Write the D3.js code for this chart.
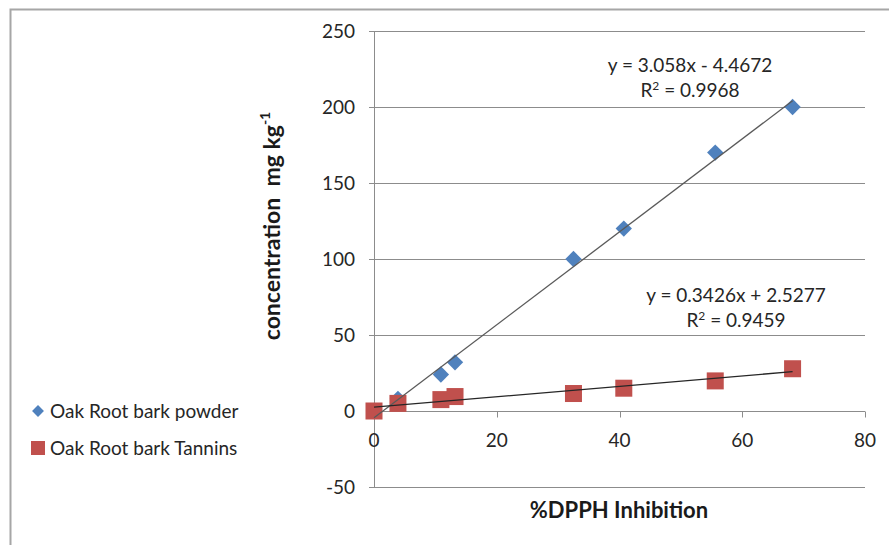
<!DOCTYPE html>
<html><head><meta charset="utf-8">
<script src="https://cdn.jsdelivr.net/npm/d3@7"></script>
<style>body{margin:0;background:#fff;} svg{display:block;font-family:Lato,"Open Sans","Liberation Sans",sans-serif;} text{white-space:pre;}</style>
</head><body>
<svg id="c" width="889" height="545"></svg>
<script>
const xTicks = [0, 20, 40, 60, 80];
const yTicks = [-50, 0, 50, 100, 150, 200, 250];
const seriesNames = ["Oak Root bark powder", "Oak Root bark Tannins"];
const seriesColors = ["#4F81BD", "#C0504D"];
const inhibition = [0, 3.9, 10.9, 13.2, 32.5, 40.7, 55.6, 68.2];
const powderConc = [0, 8, 24, 32, 100, 120, 170, 200];
const tanninConc = [0, 5, 7.5, 9.5, 11.5, 15, 19.8, 27.8];
const trendSlope = [3.058, 0.3426];
const trendIntercept = [-4.4672, 2.5277];
const trendEq = ["y = 3.058x - 4.4672", "y = 0.3426x + 2.5277"];
const trendR2 = ["0.9968", "0.9459"];

const svg = d3.select("#c");
// outer frame
svg.append("path").attr("d","M10.5,545 V9.5 H889").attr("fill","none").attr("stroke","#a6a6a6").attr("stroke-width",2);

const x = d3.scaleLinear().domain([0,80]).range([374,865]);
const y = d3.scaleLinear().domain([-50,250]).range([487,31]);

// gridlines
svg.append("g").selectAll("line").data(yTicks).join("line")
  .attr("x1",x(0)-5).attr("x2",x(80)).attr("y1",d=>Math.round(y(d))+0.5).attr("y2",d=>Math.round(y(d))+0.5)
  .attr("stroke","#8c8c8c").attr("stroke-width",1);
// y axis line
svg.append("line").attr("x1",x(0)+0.5).attr("x2",x(0)+0.5).attr("y1",y(250)).attr("y2",y(-50))
  .attr("stroke","#8c8c8c");
// x axis ticks at y=0
const y0 = Math.round(y(0))+0.5;
svg.append("g").selectAll("line").data(xTicks).join("line")
  .attr("x1",d=>Math.round(x(d))+0.5).attr("x2",d=>Math.round(x(d))+0.5).attr("y1",y0).attr("y2",y0+6)
  .attr("stroke","#8c8c8c");
// y tick labels
svg.append("g").selectAll("text").data(yTicks).join("text")
  .attr("x",x(0)-19).attr("y",d=>y(d)).attr("dy","0.36em").attr("text-anchor","end")
  .attr("font-size",19).attr("fill","#262626").text(d=>d);
// x tick labels
svg.append("g").selectAll("text").data(xTicks).join("text")
  .attr("x",d=>x(d)).attr("y",y0+35).attr("text-anchor","middle")
  .attr("font-size",19).attr("fill","#262626").text(d=>d);

// axis titles
svg.append("text").attr("x",619).attr("y",518).attr("text-anchor","middle")
  .attr("font-size",22).attr("font-weight","bold").attr("fill","#1a1a1a").text("%DPPH Inhibition");
const yt = svg.append("text").attr("transform","translate(280,226) rotate(-90)").attr("text-anchor","middle")
  .attr("font-size",23).attr("font-weight","bold").attr("fill","#1a1a1a");
yt.append("tspan").text("concentration  mg kg");
yt.append("tspan").attr("font-size",14).attr("dy","-0.75em").text("-1");

// markers
const diamond = d3.symbol().type(d3.symbolDiamond2).size(170);
svg.append("g").selectAll("path").data(inhibition.map((v,i)=>[v,powderConc[i]])).join("path")
  .attr("d",diamond).attr("transform",d=>`translate(${x(d[0])},${y(d[1])})`)
  .attr("fill",seriesColors[0]);
svg.append("g").selectAll("rect").data(inhibition.map((v,i)=>[v,tanninConc[i]])).join("rect")
  .attr("x",d=>x(d[0])-8.5).attr("y",d=>y(d[1])-8.5).attr("width",17).attr("height",17)
  .attr("fill",seriesColors[1]);

// trendlines
const xMax = d3.max(inhibition);
trendSlope.forEach((m,i)=>{
  svg.append("line").attr("x1",x(0)).attr("y1",y(trendIntercept[i]))
    .attr("x2",x(xMax)).attr("y2",y(m*xMax+trendIntercept[i]))
    .attr("stroke",i===0?"#5a5a5a":"#262626").attr("stroke-width",1.3);
});

// equation labels
const eqPos = [[690,72,97],[736,302,327]];
trendEq.forEach((t,i)=>{
  svg.append("text").attr("x",eqPos[i][0]).attr("y",eqPos[i][1]).attr("text-anchor","middle")
    .attr("font-size",19).attr("fill","#262626").text(t);
  const r = svg.append("text").attr("x",eqPos[i][0]).attr("y",eqPos[i][2]).attr("text-anchor","middle")
    .attr("font-size",19).attr("fill","#262626");
  r.append("tspan").text("R");
  r.append("tspan").attr("font-size",12).attr("dy","-0.6em").text("2");
  r.append("tspan").attr("dy","0.4em").text(" = " + trendR2[i]);
});

// legend
const lg = svg.append("g");
lg.append("path").attr("d",d3.symbol().type(d3.symbolDiamond2).size(90)).attr("transform","translate(38,411)").attr("fill",seriesColors[0]);
lg.append("rect").attr("x",31).attr("y",441).attr("width",14).attr("height",14).attr("fill",seriesColors[1]);
seriesNames.forEach((n,i)=>{
  lg.append("text").attr("x",50).attr("y",411+i*37).attr("dy","0.36em")
    .attr("font-size",19).attr("fill","#262626").text(n);
});
</script>
</body></html>
